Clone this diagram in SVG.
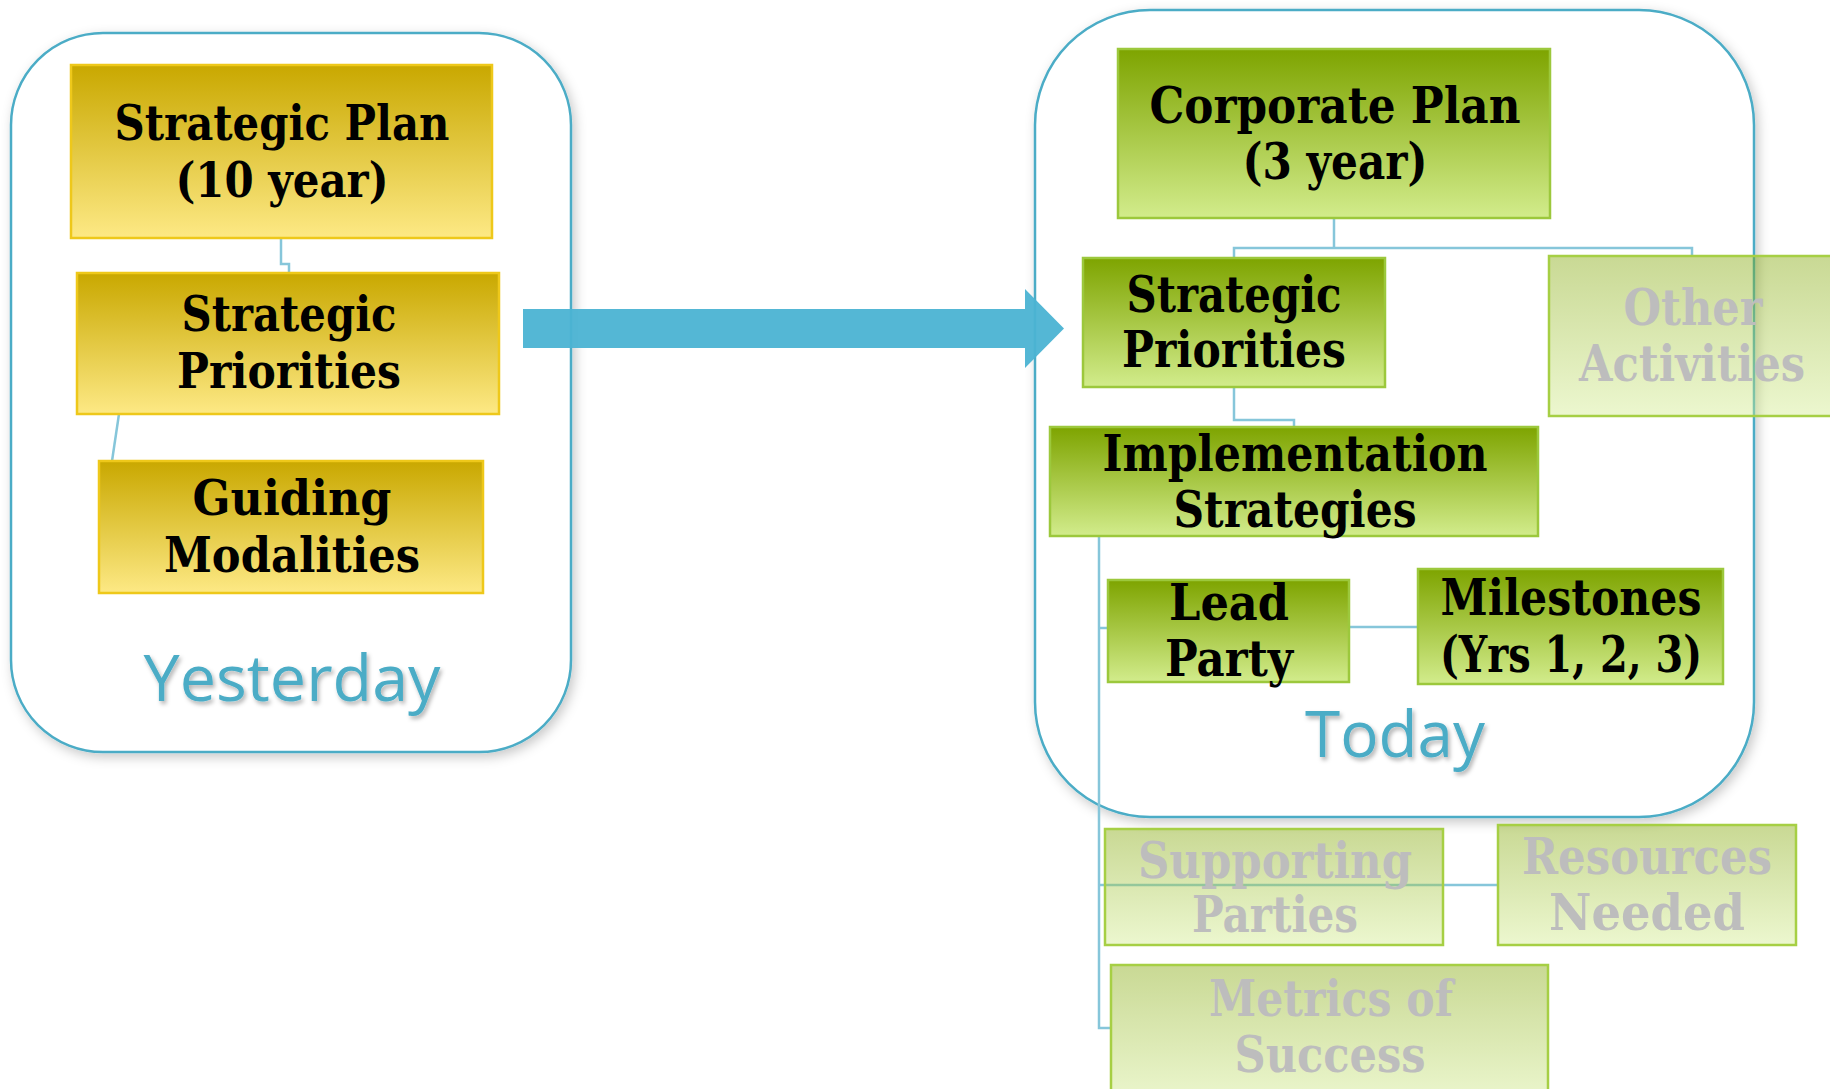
<svg xmlns="http://www.w3.org/2000/svg" width="1830" height="1089" viewBox="0 0 1830 1089">
<style>
.cont{fill:#fff;stroke:#4bacc6;stroke-width:2.5}
.yel{fill:url(#gy);stroke:#eec81a;stroke-width:2.5}
.grn{fill:url(#gg);stroke:#9cc83c;stroke-width:2.5}
.fad{fill:url(#gg);fill-opacity:0.42;stroke:#a6cf44;stroke-width:2.5}
.t{font-family:"DejaVu Serif","Liberation Serif",serif;font-weight:bold;fill:#000;text-anchor:middle}
.tf{font-family:"DejaVu Serif","Liberation Serif",serif;font-weight:bold;fill:#bdbdbd;text-anchor:middle}
.lbl{font-family:"Open Sans","Noto Sans",sans-serif;fill:#4bacc6;text-anchor:middle;font-size:64px}
.con{fill:none;stroke:#86c6da;stroke-width:2.5}
</style>
<defs>
<linearGradient id="gy" x1="0" y1="0" x2="0" y2="1">
<stop offset="0" stop-color="#c9a800"/><stop offset="1" stop-color="#fde985"/>
</linearGradient>
<linearGradient id="gg" x1="0" y1="0" x2="0" y2="1">
<stop offset="0" stop-color="#7ea400"/><stop offset="1" stop-color="#d2ec8c"/>
</linearGradient>
<filter id="sh" x="-10%" y="-10%" width="120%" height="120%">
<feDropShadow dx="3" dy="4" stdDeviation="6" flood-color="#000" flood-opacity="0.22"/>
</filter>
<filter id="ts" x="-10%" y="-20%" width="120%" height="140%">
<feDropShadow dx="2" dy="3" stdDeviation="2" flood-color="#000" flood-opacity="0.3"/>
</filter>
</defs>

<g id="yesterday-frame">
<rect class="cont" x="11" y="33" width="560" height="719" rx="92" ry="92" filter="url(#sh)"/>
<text class="lbl" x="292" y="701" filter="url(#ts)" textLength="297" lengthAdjust="spacingAndGlyphs">Yesterday</text>
</g>
<g id="today-frame">
<rect class="cont" x="1035" y="10" width="719" height="807" rx="115" ry="115" filter="url(#sh)"/>
<text class="lbl" x="1395" y="757" filter="url(#ts)" textLength="180" lengthAdjust="spacingAndGlyphs">Today</text>
</g>

<g id="connectors">
<path class="con" d="M281 238 V264 H289 V273"/>
<path class="con" stroke="#a6d3e2" d="M119 414 L112 461"/>
<path class="con" d="M1334 218 V248 M1234 258 V248 H1692 V256"/>
<path class="con" d="M1234 387 V420 H1294 V427"/>
<path class="con" stroke="#b4dbe7" d="M1099 536 V1028 H1111 M1099 628 H1108 M1349 627 H1418 M1099 885 H1498"/>
</g>

<g id="arrow">
<polygon points="523,309 1025,309 1025,289 1064,328.5 1025,368 1025,348 523,348" fill="#4bb3d3" fill-opacity="0.95"/>
</g>

<g id="strategic-plan">
<rect class="yel" x="71" y="65" width="421" height="173"/>
<text class="t" font-size="48" x="282" y="140" textLength="335" lengthAdjust="spacingAndGlyphs">Strategic Plan</text>
<text class="t" font-size="48" x="282" y="197" textLength="213" lengthAdjust="spacingAndGlyphs">(10 year)</text>
</g>
<g id="strategic-priorities-y">
<rect class="yel" x="77" y="273" width="422" height="141"/>
<text class="t" font-size="48" x="289" y="331" textLength="215" lengthAdjust="spacingAndGlyphs">Strategic</text>
<text class="t" font-size="48" x="289" y="388" textLength="224" lengthAdjust="spacingAndGlyphs">Priorities</text>
</g>
<g id="guiding-modalities">
<rect class="yel" x="99" y="461" width="384" height="132"/>
<text class="t" font-size="48" x="292" y="515" textLength="199" lengthAdjust="spacingAndGlyphs">Guiding</text>
<text class="t" font-size="48" x="292" y="572" textLength="256" lengthAdjust="spacingAndGlyphs">Modalities</text>
</g>

<g id="corporate-plan">
<rect class="grn" x="1118" y="49" width="432" height="169"/>
<text class="t" font-size="50" x="1335" y="123" textLength="371" lengthAdjust="spacingAndGlyphs">Corporate Plan</text>
<text class="t" font-size="50" x="1335" y="179" textLength="185" lengthAdjust="spacingAndGlyphs">(3 year)</text>
</g>
<g id="strategic-priorities-g">
<rect class="grn" x="1083" y="258" width="302" height="129"/>
<text class="t" font-size="50" x="1234" y="312" textLength="215" lengthAdjust="spacingAndGlyphs">Strategic</text>
<text class="t" font-size="50" x="1234" y="367" textLength="224" lengthAdjust="spacingAndGlyphs">Priorities</text>
</g>
<g id="other-activities">
<rect class="fad" x="1549" y="256" width="300" height="160"/>
<text class="tf" font-size="50" x="1693" y="325" textLength="139" lengthAdjust="spacingAndGlyphs">Other</text>
<text class="tf" font-size="50" x="1692" y="381" textLength="226" lengthAdjust="spacingAndGlyphs">Activities</text>
</g>
<g id="implementation-strategies">
<rect class="grn" x="1050" y="427" width="488" height="109"/>
<text class="t" font-size="50" x="1295" y="471" textLength="385" lengthAdjust="spacingAndGlyphs">Implementation</text>
<text class="t" font-size="50" x="1295" y="527" textLength="243" lengthAdjust="spacingAndGlyphs">Strategies</text>
</g>
<g id="lead-party">
<rect class="grn" x="1108" y="580" width="241" height="102"/>
<text class="t" font-size="50" x="1229" y="620" textLength="120" lengthAdjust="spacingAndGlyphs">Lead</text>
<text class="t" font-size="50" x="1229" y="676" textLength="128" lengthAdjust="spacingAndGlyphs">Party</text>
</g>
<g id="milestones">
<rect class="grn" x="1418" y="569" width="305" height="115"/>
<text class="t" font-size="50" x="1571" y="615" textLength="261" lengthAdjust="spacingAndGlyphs">Milestones</text>
<text class="t" font-size="50" x="1571" y="672" textLength="262" lengthAdjust="spacingAndGlyphs">(Yrs 1, 2, 3)</text>
</g>
<g id="supporting-parties">
<rect class="fad" x="1105" y="829" width="338" height="116"/>
<text class="tf" font-size="50" x="1275" y="878" textLength="274" lengthAdjust="spacingAndGlyphs">Supporting</text>
<text class="tf" font-size="50" x="1275" y="932" textLength="166" lengthAdjust="spacingAndGlyphs">Parties</text>
</g>
<g id="resources-needed">
<rect class="fad" x="1498" y="825" width="298" height="120"/>
<text class="tf" font-size="50" x="1647" y="874" textLength="250" lengthAdjust="spacingAndGlyphs">Resources</text>
<text class="tf" font-size="50" x="1647" y="930" textLength="196" lengthAdjust="spacingAndGlyphs">Needed</text>
</g>
<g id="metrics-of-success">
<rect class="fad" x="1111" y="965" width="437" height="140"/>
<text class="tf" font-size="50" x="1331" y="1016" textLength="244" lengthAdjust="spacingAndGlyphs">Metrics of</text>
<text class="tf" font-size="50" x="1330" y="1072" textLength="191" lengthAdjust="spacingAndGlyphs">Success</text>
</g>
</svg>
